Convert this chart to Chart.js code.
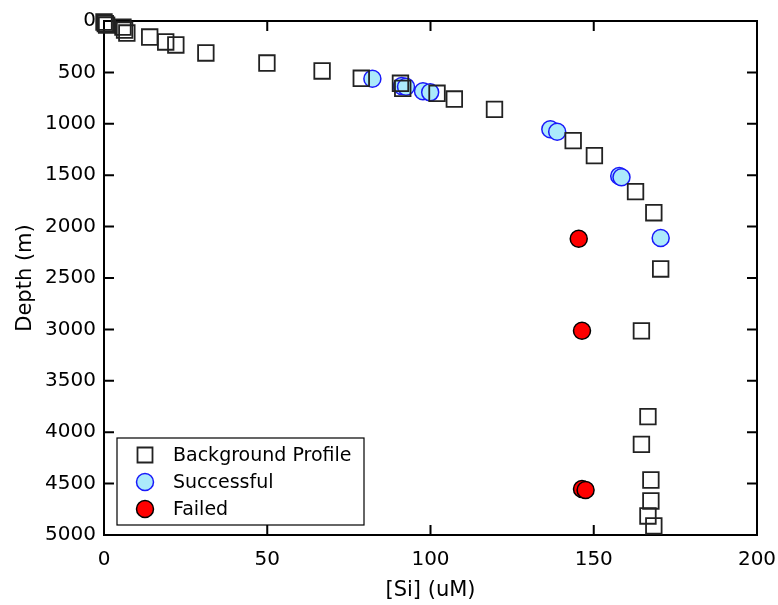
<!DOCTYPE html>
<html>
<head>
<meta charset="utf-8">
<script src="https://cdn.jsdelivr.net/npm/chart.js@4.4.0/dist/chart.umd.min.js"></script>
<style>
  html, body { margin: 0; padding: 0; background: #fff; }
  #wrap { width: 778px; height: 605px; }
</style>
</head>
<body>
<div id="wrap"><canvas id="grafica"></canvas></div>
<script>
// valores
const bgSi    = [0, 0.4, 0.8, 5.8, 6.3, 7.0, 14.0, 18.9, 22.0, 31.2, 49.9, 66.8, 78.8, 90.8, 91.5, 102, 107.3, 119.6, 143.7, 150.2, 162.8, 168.4, 170.5, 164.6, 166.6, 164.6, 167.5, 167.5, 166.6, 168.4];
const bgDepth = [10, 25, 40, 60, 88, 117, 156, 204, 233, 311, 409, 486, 557, 606, 655, 703, 759, 859, 1164, 1310, 1660, 1865, 2412, 3015, 3849, 4118, 4465, 4669, 4815, 4912];

const okSi    = [82.2, 91.2, 92.5, 97.7, 99.9, 136.7, 138.8, 157.8, 158.5, 170.5];
const okDepth = [561, 632, 639, 684, 694, 1053, 1077, 1508, 1520, 2111];

const failSi    = [145.4, 146.4, 146.4, 147.5];
const failDepth = [2118, 3013, 4553, 4562];

const xTicks = [0, 50, 100, 150, 200];
const yTicks = [0, 500, 1000, 1500, 2000, 2500, 3000, 3500, 4000, 4500, 5000];

const seriesNames = ['Background Profile', 'Successful', 'Failed'];

const FONT = 'DejaVu Sans';

function toPoints(xs, ys) {
    return xs.map((x, i) => ({ x: x, y: ys[i] }));
}

// marco y ticks hacia adentro en los cuatro lados
const marcoPlugin = {
    id: 'marco',
    beforeDatasetsDraw(chart) {
        const { ctx, chartArea: a, scales } = chart;
        ctx.save();
        ctx.strokeStyle = '#000';
        ctx.lineWidth = 2;
        ctx.strokeRect(a.left, a.top, a.right - a.left, a.bottom - a.top);
        const len = 10;
        ctx.beginPath();
        xTicks.forEach(v => {
            const px = scales.x.getPixelForValue(v);
            ctx.moveTo(px, a.bottom); ctx.lineTo(px, a.bottom - len);
            ctx.moveTo(px, a.top); ctx.lineTo(px, a.top + len);
        });
        yTicks.forEach(v => {
            const py = scales.y.getPixelForValue(v);
            ctx.moveTo(a.left, py); ctx.lineTo(a.left + len, py);
            ctx.moveTo(a.right, py); ctx.lineTo(a.right - len, py);
        });
        ctx.stroke();
        ctx.restore();
    }
};

// leyenda dentro del area del grafico, abajo a la izquierda
const leyendaPlugin = {
    id: 'leyenda',
    afterDraw(chart) {
        const ctx = chart.ctx;
        const box = { x: 117, y: 438, w: 247, h: 87 };
        ctx.save();
        ctx.fillStyle = '#fff';
        ctx.fillRect(box.x, box.y, box.w, box.h);
        ctx.strokeStyle = '#000';
        ctx.lineWidth = 1.2;
        ctx.strokeRect(box.x, box.y, box.w, box.h);

        const rows = [455, 482, 509];
        const mx = 145;
        chart.data.datasets.forEach((ds, i) => {
            const y = rows[i];
            ctx.lineWidth = ds.borderWidth;
            ctx.strokeStyle = ds.borderColor;
            ctx.fillStyle = ds.backgroundColor;
            ctx.beginPath();
            if (ds.pointStyle === 'rect') {
                ctx.rect(mx - 7.5, y - 7.5, 15, 15);
            } else {
                ctx.arc(mx, y, 8.5, 0, Math.PI * 2);
            }
            ctx.fill();
            ctx.stroke();
            ctx.fillStyle = '#000';
            ctx.font = '19px "' + FONT + '"';
            ctx.textBaseline = 'middle';
            ctx.fillText(ds.label, 173, y + 1);
        });
        ctx.restore();
    }
};

const ctx = document.getElementById('grafica').getContext('2d');
new Chart(ctx, {
    type: 'scatter',
    data: {
        datasets: [{
            label: seriesNames[0],
            data: toPoints(bgSi, bgDepth),
            pointStyle: 'rect',
            pointRadius: 11,
            backgroundColor: 'rgba(0,0,0,0)',
            borderColor: '#222',
            borderWidth: 1.8,
            clip: false
        }, {
            label: seriesNames[1],
            data: toPoints(okSi, okDepth),
            pointStyle: 'circle',
            pointRadius: 8.5,
            backgroundColor: 'rgb(172,234,251)',
            borderColor: 'rgb(25,25,250)',
            borderWidth: 1.5,
            clip: false
        }, {
            label: seriesNames[2],
            data: toPoints(failSi, failDepth),
            pointStyle: 'circle',
            pointRadius: 8.5,
            backgroundColor: '#ff0000',
            borderColor: '#000',
            borderWidth: 1.5,
            clip: false
        }]
    },
    options: {
        responsive: true,
        maintainAspectRatio: false,
        animation: false,
        layout: { padding: { top: 21, right: 21, left: 0, bottom: 0 } },
        plugins: {
            legend: { display: false },
            tooltip: { enabled: false }
        },
        scales: {
            x: {
                type: 'linear',
                min: 0,
                max: 200,
                afterFit: s => { s.height = 70; s.paddingLeft = 0; s.paddingRight = 0; },
                afterBuildTicks: s => { s.ticks = xTicks.map(v => ({ value: v })); },
                grid: { display: false, drawTicks: false },
                border: { display: false },
                ticks: {
                    color: '#000', padding: 13, font: { family: FONT, size: 20 },
                    callback: v => String(v)
                },
                title: {
                    display: true,
                    text: '[Si] (uM)',
                    color: '#000',
                    font: { family: FONT, size: 21 },
                    padding: { top: 0, bottom: 2 }
                }
            },
            y: {
                type: 'linear',
                reverse: true,
                min: 0,
                max: 5000,
                afterFit: s => { s.width = 104; s.paddingTop = 0; s.paddingBottom = 0; },
                afterBuildTicks: s => { s.ticks = yTicks.map(v => ({ value: v })); },
                grid: { display: false, drawTicks: false },
                border: { display: false },
                ticks: {
                    color: '#000', padding: 8, font: { family: FONT, size: 20 },
                    callback: v => String(v)
                },
                title: {
                    display: true,
                    text: 'Depth (m)',
                    color: '#000',
                    font: { family: FONT, size: 21 },
                    padding: { top: 13, bottom: 0 }
                }
            }
        }
    },
    plugins: [marcoPlugin, leyendaPlugin]
});
</script>
</body>
</html>
